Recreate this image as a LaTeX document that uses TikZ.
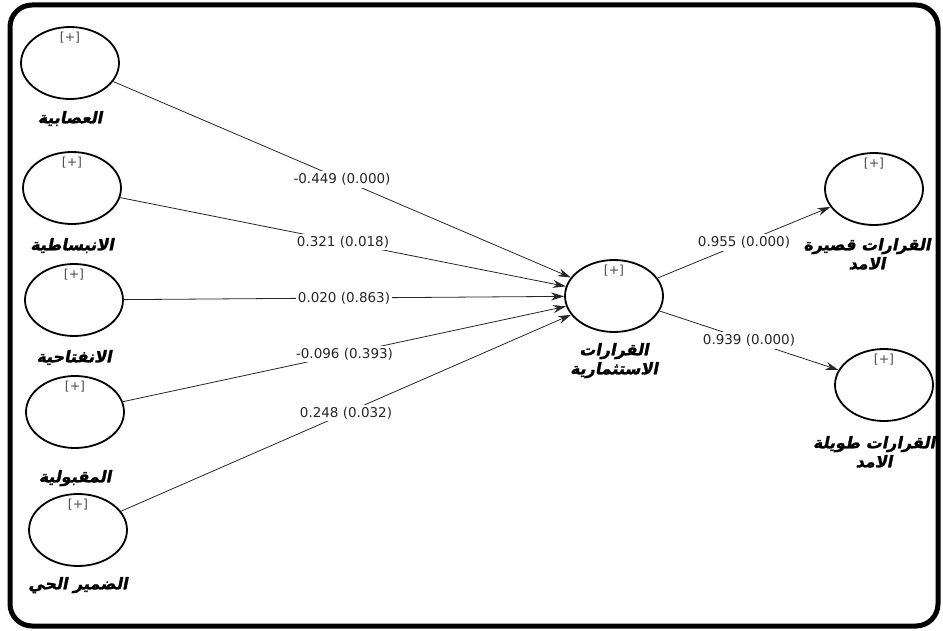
\documentclass[tikz,border=0pt]{standalone}
\usepackage{fontspec}
\setmainfont{DejaVu Sans}
\newfontfamily\arabicfont[Script=Arabic,FakeSlant=0.2,FakeBold=1.5]{DejaVu Sans}
\TeXXeTstate=1
\usetikzlibrary{arrows.meta,positioning,shapes.geometric}

\begin{document}
\begin{tikzpicture}[x=1pt,y=-1pt,>={Stealth[length=13pt,width=8pt]},
	lv/.style={ellipse,draw,line width=1.8pt,minimum width=98pt,minimum height=72pt,inner sep=0pt,
		label={[plusmark,label distance=-21pt]north:{[+]}}},
	plusmark/.style={font=\fontsize{12.5}{14}\selectfont,text=black!70},
	pathline/.style={->,line width=0.8pt,draw=black!85},
	coef/.style={fill=white,inner sep=2pt,font=\fontsize{13.5}{16}\selectfont,text=black!85},
	lvname/.style={font=\arabicfont\bfseries\fontsize{16}{19}\selectfont,align=center,inner sep=2pt}
	]

	\useasboundingbox (0,0) rectangle (943,631);
	\draw[line width=5pt,rounded corners=22pt] (10,5) rectangle (938,626);

	% personality traits
	\node[lv] (neu) at (70,63) {};
	\node[lv] (ext) at (72,188) {};
	\node[lv] (opn) at (74,300) {};
	\node[lv] (agr) at (75,412) {};
	\node[lv] (con) at (78,530) {};

	\node[lvname,below=9pt of neu] {\beginR العصابية\endR};
	\node[lvname,below=11pt of ext] {\beginR الانبساطية\endR};
	\node[lvname,below=11pt of opn] {\beginR الانفتاحية\endR};
	\node[lvname,below=19pt of agr] {\beginR المقبولية\endR};
	\node[lvname,below=8pt of con] {\beginR الضمير الحي\endR};

	% decisions
	\node[lv] (inv) at (614,296) {};
	\node[lv] (shrt) at (874,189) {};
	\node[lv] (lng) at (884,385) {};

	\node[lvname,below=8pt of inv] {\beginR القرارات\endR\\\beginR الاستثمارية\endR};
	\node[lvname,below=10pt of shrt,xshift=-7pt] {\beginR القرارات قصيرة\endR\\\beginR الامد\endR};
	\node[lvname,below=12pt of lng,xshift=-10pt] {\beginR القرارات طويلة\endR\\\beginR الامد\endR};

	\draw[pathline] (neu) -- node[coef]{-0.449 (0.000)} (inv);
	\draw[pathline] (ext) -- node[coef]{0.321 (0.018)} (inv);
	\draw[pathline] (opn) -- node[coef]{0.020 (0.863)} (inv);
	\draw[pathline] (agr) -- node[coef]{-0.096 (0.393)} (inv);
	\draw[pathline] (con) -- node[coef]{0.248 (0.032)} (inv);

	\draw[pathline] (inv) -- node[coef]{0.955 (0.000)} (shrt);
	\draw[pathline] (inv) -- node[coef]{0.939 (0.000)} (lng);

\end{tikzpicture}
\end{document}
